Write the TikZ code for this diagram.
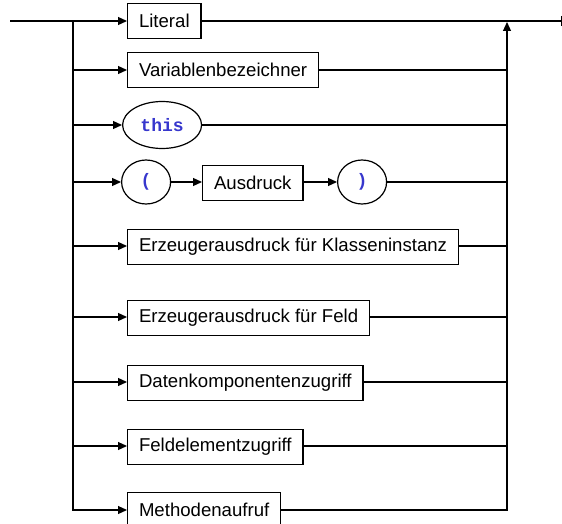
\documentclass[tikz,border=0pt]{standalone}
\usepackage{fontspec}
\setmainfont{Liberation Sans}
\newfontfamily\codefont{Liberation Mono}
\usetikzlibrary{arrows.meta,shapes.geometric}
\definecolor{kwblue}{RGB}{55,55,205}

\tikzset{
	rule/.style={draw,line width=1.2pt,rectangle,minimum height=35pt,inner xsep=11.4pt,inner ysep=0pt,font=\fontsize{18.6}{20}\selectfont,anchor=west},
	term/.style={draw,line width=1.2pt,ellipse,inner sep=0pt,font=\codefont\bfseries\fontsize{18}{20}\selectfont,text=kwblue,anchor=west},
	flow/.style={line width=1.2pt,-{Triangle[length=9pt,width=8pt]}},
	wire/.style={line width=1.2pt}
}

\begin{document}
\begin{tikzpicture}[x=1pt,y=-1pt]
	\useasboundingbox (0,0) rectangle (562,524);
	\coordinate (in) at (10,21);
	\coordinate (out) at (562,21);
	\coordinate (split) at (73,21);
	\coordinate (merge) at (507,22);
	\coordinate (s2) at (73,70);
	\coordinate (s3) at (73,125);
	\coordinate (s4) at (73,182);
	\coordinate (s5) at (73,246);
	\coordinate (s6) at (73,317);
	\coordinate (s7) at (73,382);
	\coordinate (s8) at (73,446);
	\coordinate (s9) at (73,509);
	\coordinate (m2) at (507,70);
	\coordinate (m3) at (507,125);
	\coordinate (m4) at (507,182);
	\coordinate (m5) at (507,246);
	\coordinate (m6) at (507,317);
	\coordinate (m7) at (507,382);
	\coordinate (m8) at (507,446);

	\node[rule] (literal) at (127,21) {Literal};
	\node[rule] (varname) at (127,70) {Variablenbezeichner};
	\node[term,minimum width=79pt,minimum height=47pt] (this) at (122,125) {this};
	\node[term,minimum width=49pt,minimum height=44pt] (lparen) at (121,182) {(};
	\node[rule] (expr) at (202,183) {Ausdruck};
	\node[term,minimum width=49pt,minimum height=44pt] (rparen) at (337,182) {)};
	\node[rule] (newobj) at (127,247) {Erzeugerausdruck für Klasseninstanz};
	\node[rule] (newarr) at (127,318) {Erzeugerausdruck für Feld};
	\node[rule] (fieldacc) at (127,383) {Datenkomponentenzugriff};
	\node[rule] (arracc) at (127,447) {Feldelementzugriff};
	\node[rule] (call) at (127,510) {Methodenaufruf};

	\draw[flow] (in) -- (literal);
	\draw[wire,-{Bar[width=10pt]}] (literal) -- (out);
	\draw[flow] (split) |- (call);
	\draw[flow] (call) -| (merge);
	\draw[flow] (s2) -- (varname.west |- s2);
	\draw[wire] (varname.east |- m2) -- (m2);
	\draw[flow] (s3) -- (this);
	\draw[wire] (this) -- (m3);
	\draw[flow] (s4) -- (lparen);
	\draw[flow] (lparen) -- (expr.west |- lparen);
	\draw[flow] (expr.east |- rparen) -- (rparen);
	\draw[wire] (rparen) -- (m4);
	\draw[flow] (s5) -- (newobj.west |- s5);
	\draw[wire] (newobj.east |- m5) -- (m5);
	\draw[flow] (s6) -- (newarr.west |- s6);
	\draw[wire] (newarr.east |- m6) -- (m6);
	\draw[flow] (s7) -- (fieldacc.west |- s7);
	\draw[wire] (fieldacc.east |- m7) -- (m7);
	\draw[flow] (s8) -- (arracc.west |- s8);
	\draw[wire] (arracc.east |- m8) -- (m8);
\end{tikzpicture}
\end{document}
